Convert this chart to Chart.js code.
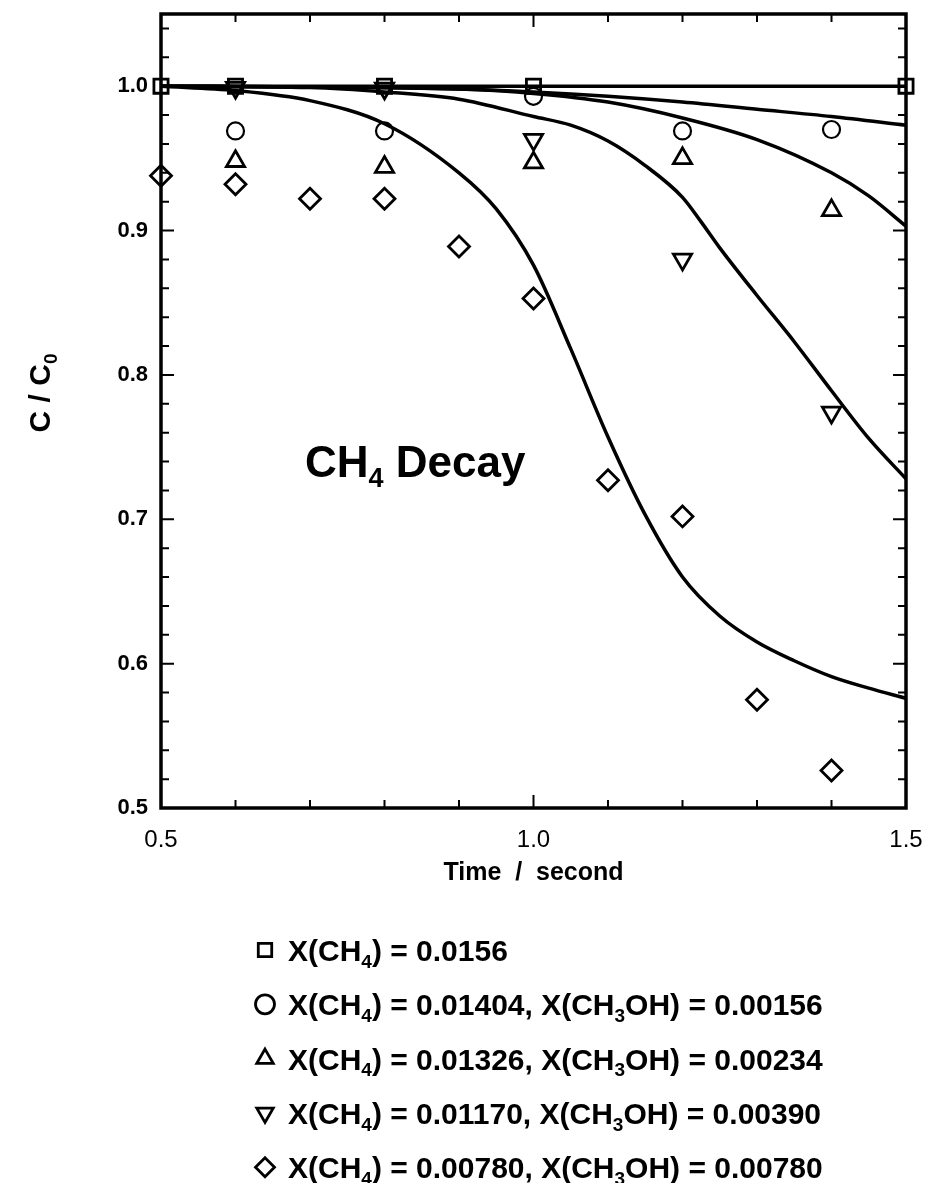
<!DOCTYPE html>
<html lang="en">
<head>
<meta charset="UTF-8" />
<title>CH4 Decay</title>
<style>
  html, body { margin: 0; padding: 0; background: #fff; }
  #chart { display: block; }
</style>
</head>
<body>
<canvas id="chart" width="928" height="1183"></canvas>
<script src="https://cdn.jsdelivr.net/npm/chart.js@4.4.1/dist/chart.umd.min.js"></script>
<script>
// measured C/C0 vs time (s)
const tSquare = [0.5, 0.6, 0.8, 1.0, 1.5];
const cSquare = [1.0, 1.0, 1.0, 1.0, 1.0];
const tCircle = [0.6, 0.8, 1.0, 1.2, 1.4];
const cCircle = [0.969, 0.969, 0.993, 0.969, 0.970];
const tUp = [0.6, 0.8, 1.0, 1.2, 1.4];
const cUp = [0.948, 0.944, 0.947, 0.950, 0.914];
const tDown = [0.6, 0.8, 1.0, 1.2, 1.4];
const cDown = [0.999, 0.9985, 0.963, 0.880, 0.774];
const tDiamond = [0.5, 0.6, 0.7, 0.8, 0.9, 1.0, 1.1, 1.2, 1.3, 1.4];
const cDiamond = [0.938, 0.932, 0.922, 0.922, 0.889, 0.853, 0.727, 0.702, 0.575, 0.526];

// model curves
const tFit1 = [0.5, 1.5];
const cFit1 = [1.0, 1.0];
const tFit2 = [0.5, 0.7, 0.9, 1.0, 1.1, 1.2, 1.3, 1.4, 1.5];
const cFit2 = [1.0, 0.9995, 0.998, 0.996, 0.993, 0.989, 0.984, 0.979, 0.973];
const tFit3 = [0.5, 0.7, 0.9, 1.0, 1.1, 1.2, 1.3, 1.4, 1.45, 1.5];
const cFit3 = [1.0, 0.9995, 0.998, 0.995, 0.989, 0.978, 0.963, 0.940, 0.924, 0.903];
const tFit4 = [0.5, 0.7, 0.8, 0.9, 1.0, 1.05, 1.1, 1.15, 1.2, 1.225, 1.25, 1.3, 1.35, 1.4, 1.45, 1.5];
const cFit4 = [1.0, 0.999, 0.996, 0.991, 0.979, 0.973, 0.962, 0.945, 0.923, 0.906, 0.888, 0.855, 0.823, 0.789, 0.756, 0.728];
const tFit5 = [0.5, 0.6, 0.7, 0.8, 0.9, 0.95, 1.0, 1.05, 1.1, 1.15, 1.2, 1.25, 1.3, 1.35, 1.4, 1.45, 1.5];
const cFit5 = [1.0, 0.997, 0.990, 0.974, 0.940, 0.915, 0.876, 0.818, 0.757, 0.703, 0.660, 0.633, 0.615, 0.602, 0.591, 0.583, 0.576];

const yTickLabels = [0.5, 0.6, 0.7, 0.8, 0.9, 1.0];
const xTickLabels = [0.5, 1.0, 1.5];

// "_d" marks a subscript digit
const legendLabels = [
  'X(CH_4) = 0.0156',
  'X(CH_4) = 0.01404, X(CH_3OH) = 0.00156',
  'X(CH_4) = 0.01326, X(CH_3OH) = 0.00234',
  'X(CH_4) = 0.01170, X(CH_3OH) = 0.00390',
  'X(CH_4) = 0.00780, X(CH_3OH) = 0.00780'
];
const markerStyles = [
  { pointStyle: 'rect', rotation: 0 },
  { pointStyle: 'circle', rotation: 0 },
  { pointStyle: 'triangle', rotation: 0 },
  { pointStyle: 'triangle', rotation: 180 },
  { pointStyle: 'rectRot', rotation: 0 }
];

const FONT = '"Liberation Sans", Arial, Helvetica, sans-serif';

function pts(t, c) {
  return t.map((v, i) => ({ x: v, y: c[i] }));
}
function plain(s) { return s.replace(/_(\d)/g, '$1'); }

function markerSet(i, t, c, r) {
  return {
    label: plain(legendLabels[i]),
    data: pts(t, c),
    showLine: false,
    pointStyle: markerStyles[i].pointStyle,
    rotation: markerStyles[i].rotation,
    pointRadius: r,
    pointBorderWidth: i === 1 ? 2.2 : 2.8,
    pointBorderColor: '#000',
    pointBackgroundColor: 'rgba(0,0,0,0)',
    clip: false
  };
}
function fitSet(t, c) {
  return {
    label: 'fit',
    data: pts(t, c),
    showLine: true,
    pointRadius: 0,
    borderColor: '#000',
    borderWidth: 3.5,
    cubicInterpolationMode: 'monotone',
    fill: false
  };
}

// text with subscript digits
function richWidth(ctx, s, size) {
  let w = 0;
  s.split(/(_\d)/).forEach(part => {
    if (!part) return;
    if (part[0] === '_') { ctx.font = 'bold ' + Math.round(size * 0.62) + 'px ' + FONT; w += ctx.measureText(part[1]).width; }
    else { ctx.font = 'bold ' + size + 'px ' + FONT; w += ctx.measureText(part).width; }
  });
  return w;
}
function drawRich(ctx, s, x, y, size) {
  ctx.textAlign = 'left';
  ctx.textBaseline = 'alphabetic';
  s.split(/(_\d)/).forEach(part => {
    if (!part) return;
    if (part[0] === '_') {
      ctx.font = 'bold ' + Math.round(size * 0.62) + 'px ' + FONT;
      ctx.fillText(part[1], x, y + size * 0.22);
      x += ctx.measureText(part[1]).width;
    } else {
      ctx.font = 'bold ' + size + 'px ' + FONT;
      ctx.fillText(part, x, y);
      x += ctx.measureText(part).width;
    }
  });
}

function marker(ctx, style, x, y, r) {
  if (Chart.helpers && Chart.helpers.drawPoint) {
    Chart.helpers.drawPoint(ctx, { pointStyle: style.pointStyle, rotation: style.rotation, radius: r, borderWidth: 2.8 }, x, y);
  }
}

const framePlugin = {
  id: 'frame',
  afterDatasetsDraw(chart) {
    const { ctx, chartArea: a, scales: { x, y } } = chart;
    ctx.save();
    ctx.strokeStyle = '#000';
    ctx.lineWidth = 2;
    ctx.beginPath();
    for (let i = 0; i <= 10; i++) {
      const px = x.getPixelForValue(0.5 + i * 0.1);
      const len = i % 5 === 0 ? 13 : 8;
      ctx.moveTo(px, a.bottom); ctx.lineTo(px, a.bottom - len);
      ctx.moveTo(px, a.top); ctx.lineTo(px, a.top + len);
    }
    for (let i = 0; i <= 27; i++) {
      const py = y.getPixelForValue(0.5 + i * 0.02);
      const len = i % 5 === 0 ? 13 : 8;
      ctx.moveTo(a.left, py); ctx.lineTo(a.left + len, py);
      ctx.moveTo(a.right, py); ctx.lineTo(a.right - len, py);
    }
    ctx.stroke();
    ctx.lineWidth = 3.5;
    ctx.strokeRect(a.left, a.top, a.right - a.left, a.bottom - a.top);
    ctx.restore();
  },
  afterDraw(chart) {
    const { ctx } = chart;
    ctx.save();
    ctx.fillStyle = '#000';
    ctx.strokeStyle = '#000';

    // annotation
    drawRich(ctx, 'CH_4 Decay', 305, 477, 44);

    // y axis title, rotated
    ctx.save();
    const yt = 'C / C_0';
    const w = richWidth(ctx, yt, 30);
    ctx.translate(50, 393);
    ctx.rotate(-Math.PI / 2);
    drawRich(ctx, yt, -w / 2, 0, 30);
    ctx.restore();

    // legend
    for (let i = 0; i < legendLabels.length; i++) {
      const cy = 950 + i * 54.3;
      ctx.lineWidth = 2.8;
      ctx.fillStyle = 'rgba(0,0,0,0)';
      marker(ctx, markerStyles[i], 265, cy, 9.5);
      ctx.fillStyle = '#000';
      drawRich(ctx, legendLabels[i], 288, cy + 11, 30);
    }
    ctx.restore();
  }
};

new Chart(document.getElementById('chart'), {
  type: 'scatter',
  data: {
    datasets: [
      markerSet(0, tSquare, cSquare, 10),
      markerSet(1, tCircle, cCircle, 8.5),
      markerSet(2, tUp, cUp, 10.5),
      markerSet(3, tDown, cDown, 10.5),
      markerSet(4, tDiamond, cDiamond, 10.5),
      fitSet(tFit1, cFit1),
      fitSet(tFit2, cFit2),
      fitSet(tFit3, cFit3),
      fitSet(tFit4, cFit4),
      fitSet(tFit5, cFit5)
    ]
  },
  options: {
    responsive: false,
    animation: false,
    devicePixelRatio: 1,
    layout: { padding: { left: 0, top: 14, right: 22, bottom: 1183 - 888 } },
    plugins: { legend: { display: false }, tooltip: { enabled: false } },
    scales: {
      x: {
        type: 'linear',
        min: 0.5,
        max: 1.5,
        grid: { display: false, drawTicks: false },
        border: { display: false },
        ticks: {
          stepSize: 0.5,
          color: '#000',
          padding: 18,
          font: { family: FONT, size: 24 },
          callback: v => xTickLabels.some(t => Math.abs(t - v) < 1e-6) ? v.toFixed(1) : ''
        },
        title: {
          display: true,
          text: 'Time  /  second',
          color: '#000',
          font: { family: FONT, size: 25, weight: 'bold' },
          padding: { top: 4, bottom: 0 }
        },
        afterFit: s => { s.height = 888 - 808; s.paddingLeft = 0; s.paddingRight = 0; }
      },
      y: {
        type: 'linear',
        min: 0.5,
        max: 1.05,
        grid: { display: false, drawTicks: false },
        border: { display: false },
        ticks: {
          stepSize: 0.1,
          includeBounds: false,
          color: '#000',
          padding: 13,
          font: { family: FONT, size: 22, weight: 'bold' },
          callback: v => yTickLabels.some(t => Math.abs(t - v) < 1e-6) ? v.toFixed(1) : ''
        },
        afterFit: s => { s.width = 161; s.paddingTop = 0; s.paddingBottom = 0; }
      }
    }
  },
  plugins: [framePlugin]
});
</script>
</body>
</html>
